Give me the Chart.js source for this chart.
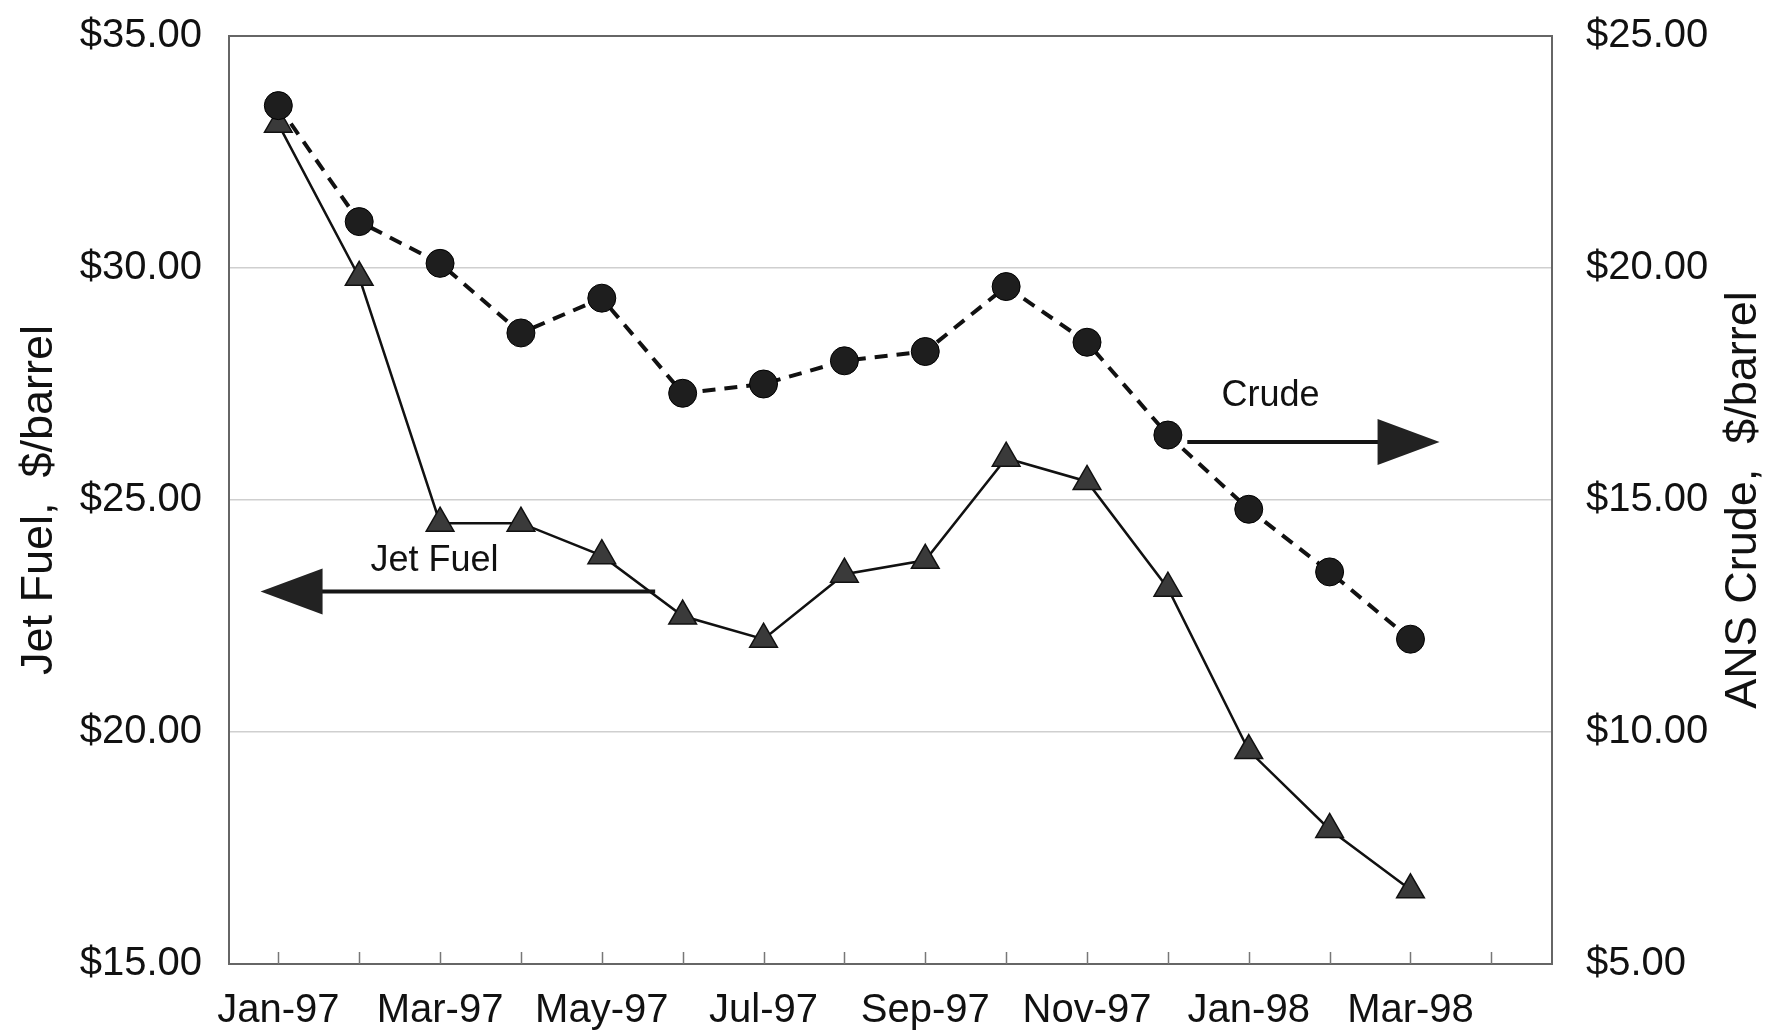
<!DOCTYPE html>
<html>
<head>
<meta charset="utf-8">
<title>Jet Fuel vs ANS Crude</title>
<script src="https://cdn.jsdelivr.net/npm/chart.js@4.4.1/dist/chart.umd.min.js"></script>
<style>
  html, body { margin: 0; padding: 0; background: #fff; }
  #wrap { width: 1778px; height: 1031px; position: relative; }
</style>
</head>
<body>
<div id="wrap"><canvas id="priceChart"></canvas></div>
<script>
// --- Data ---
const months = ['Jan-97', 'Feb-97', 'Mar-97', 'Apr-97', 'May-97', 'Jun-97', 'Jul-97', 'Aug-97',
                'Sep-97', 'Oct-97', 'Nov-97', 'Dec-97', 'Jan-98', 'Feb-98', 'Mar-98', 'Apr-98'];
const jetFuel  = [33.1, 29.8, 24.5, 24.5, 23.8, 22.5, 22.0, 23.4, 23.7, 25.9, 25.4, 23.1, 19.6, 17.9, 16.6];
const ansCrude = [23.5, 21.0, 20.1, 18.6, 19.35, 17.3, 17.5, 18.0, 18.2, 19.6, 18.4, 16.4, 14.8, 13.45, 12.0];
const jetTicks   = [15, 20, 25, 30, 35];
const crudeTicks = [5, 10, 15, 20, 25];

const FONT = "'Liberation Sans', Arial, Helvetica, sans-serif";
const INK = '#111';

// where the two arrow labels sit, in axis units (x = month index)
const jetNote   = { text: 'Jet Fuel', textX: 1.93, textY: 23.68, fromX: 4.66, toX: -0.22, y: 23.03, axis: 'yJet' };
const crudeNote = { text: 'Crude', textX: 12.27, textY: 17.24, fromX: 11.24, toX: 14.36, y: 16.25, axis: 'yCrude' };

const money = v => '$' + Number(v).toFixed(2);

// --- Extras: frame, inward ticks, right title, arrows ---
function drawArrow(ctx, x0, x1, y) {
    const dir = x1 > x0 ? 1 : -1;
    const headLen = 62, headHalf = 23;
    const back = x1 - dir * headLen;
    ctx.save();
    ctx.strokeStyle = '#151515';
    ctx.lineWidth = 4;
    ctx.beginPath();
    ctx.moveTo(x0, y);
    ctx.lineTo(back + dir * 4, y);
    ctx.stroke();
    ctx.fillStyle = '#222';
    ctx.beginPath();
    ctx.moveTo(x1, y);
    ctx.lineTo(back, y - headHalf);
    ctx.lineTo(back, y + headHalf);
    ctx.closePath();
    ctx.fill();
    ctx.restore();
}

const extras = {
    id: 'extras',
    beforeDatasetsDraw(chart) {
        const { ctx, chartArea: a, scales } = chart;
        ctx.save();
        ctx.strokeStyle = '#666';
        ctx.lineWidth = 2;
        ctx.strokeRect(a.left, a.top, a.right - a.left, a.bottom - a.top);
        // short tick marks pointing up from the bottom axis
        ctx.strokeStyle = '#777';
        ctx.lineWidth = 1.5;
        months.forEach((m, i) => {
            const x = Math.round(scales.x.getPixelForValue(i)) + 0.5;
            ctx.beginPath();
            ctx.moveTo(x, a.bottom);
            ctx.lineTo(x, a.bottom - 12);
            ctx.stroke();
        });
        ctx.restore();
    },
    afterDraw(chart) {
        const { ctx, chartArea: a, scales } = chart;
        ctx.save();
        // right axis title reads bottom-to-top, like the left one
        ctx.fillStyle = INK;
        ctx.font = `45px ${FONT}`;
        ctx.textAlign = 'center';
        ctx.textBaseline = 'middle';
        ctx.translate(1744, (a.top + a.bottom) / 2);
        ctx.rotate(-Math.PI / 2);
        ctx.fillText('ANS Crude,  $/barrel', 0, 0);
        ctx.restore();

        [jetNote, crudeNote].forEach(n => {
            const yScale = scales[n.axis];
            drawArrow(ctx, scales.x.getPixelForValue(n.fromX), scales.x.getPixelForValue(n.toX),
                      yScale.getPixelForValue(n.y));
            ctx.save();
            ctx.fillStyle = INK;
            ctx.font = `36px ${FONT}`;
            ctx.textAlign = 'center';
            ctx.textBaseline = 'middle';
            ctx.fillText(n.text, scales.x.getPixelForValue(n.textX), yScale.getPixelForValue(n.textY));
            ctx.restore();
        });
    }
};

// fixed scale sizes so the plot box lands where the original has it
function fitY(width) {
    return s => {
        s.width = width;
        s.paddingTop = 0;
        s.paddingBottom = 0;
    };
}

// --- Chart ---
const ctx = document.getElementById('priceChart').getContext('2d');
new Chart(ctx, {
    type: 'line',
    data: {
        datasets: [
            {
                label: 'Crude',
                data: ansCrude.map((y, i) => ({ x: i, y })),
                yAxisID: 'yCrude',
                borderColor: '#111',
                borderWidth: 4,
                borderDash: [13, 9],
                pointStyle: 'circle',
                pointRadius: 14,
                pointBackgroundColor: '#1e1e1e',
                pointBorderColor: '#000',
                pointBorderWidth: 1,
                tension: 0
            },
            {
                label: 'Jet Fuel',
                data: jetFuel.map((y, i) => ({ x: i, y })),
                yAxisID: 'yJet',
                borderColor: '#111',
                borderWidth: 2.5,
                pointStyle: 'triangle',
                pointRadius: 16,
                pointBackgroundColor: '#3a3a3a',
                pointBorderColor: '#111',
                pointBorderWidth: 1.5,
                tension: 0
            }
        ]
    },
    options: {
        responsive: true,
        maintainAspectRatio: false,
        animation: false,
        layout: { padding: { top: 36, left: 0, right: 0, bottom: 0 } },
        plugins: {
            legend: { display: false },
            tooltip: { enabled: false }
        },
        scales: {
            x: {
                type: 'linear',
                position: 'bottom',
                min: -0.61,
                max: 15.75,
                afterBuildTicks: s => { s.ticks = months.map((m, i) => ({ value: i })); },
                afterFit: s => { s.height = 67; },
                grid: { display: false },
                border: { display: false },
                ticks: {
                    autoSkip: false,
                    maxRotation: 0,
                    padding: 15,
                    color: INK,
                    font: { family: FONT, size: 40 },
                    callback: v => (v % 2 === 0 ? months[v] : '')
                }
            },
            yJet: {
                position: 'left',
                min: 15,
                max: 35,
                afterBuildTicks: s => { s.ticks = jetTicks.map(v => ({ value: v })); },
                afterFit: fitY(229),
                grid: { color: '#cfcfcf', lineWidth: 1.5, drawTicks: false },
                border: { display: false },
                ticks: {
                    padding: 27,
                    color: INK,
                    font: { family: FONT, size: 40 },
                    callback: money
                },
                title: {
                    display: true,
                    text: 'Jet Fuel,  $/barrel',
                    color: INK,
                    font: { family: FONT, size: 45 },
                    padding: { top: 13, bottom: 0 }
                }
            },
            yCrude: {
                position: 'right',
                min: 5,
                max: 25,
                afterBuildTicks: s => { s.ticks = crudeTicks.map(v => ({ value: v })); },
                afterFit: fitY(226),
                grid: { display: false },
                border: { display: false },
                ticks: {
                    padding: 26,
                    color: INK,
                    font: { family: FONT, size: 40 },
                    callback: money
                }
            }
        }
    },
    plugins: [extras]
});
</script>
</body>
</html>
